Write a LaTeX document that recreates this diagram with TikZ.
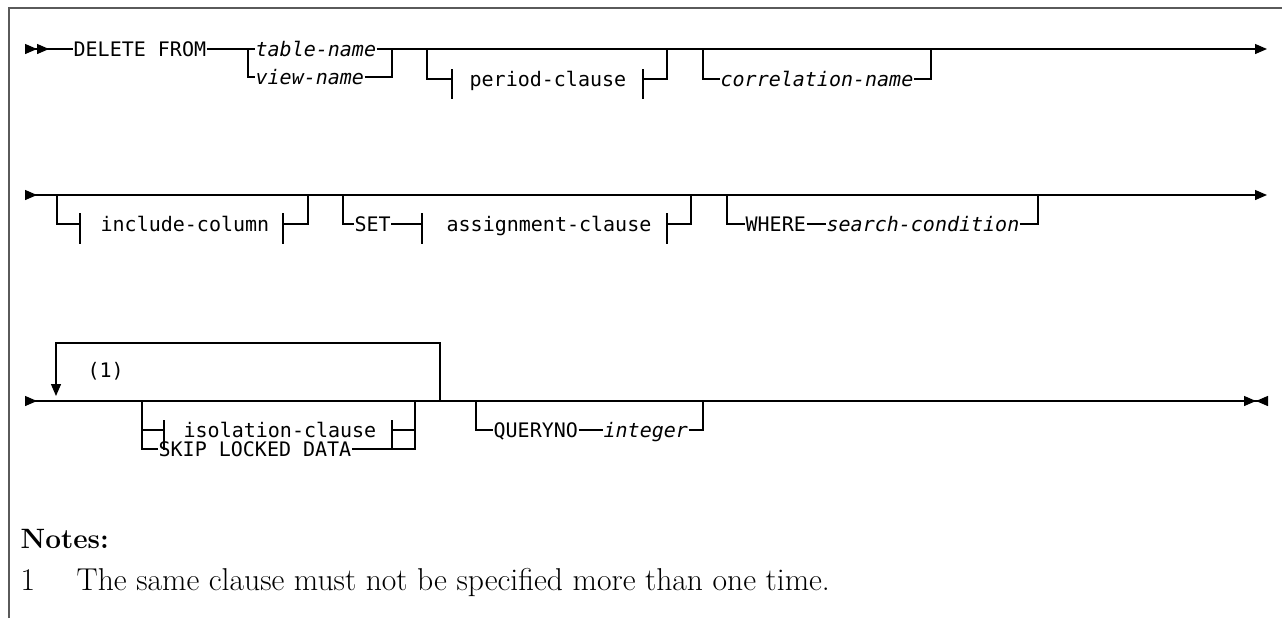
\documentclass[tikz,border=0pt]{standalone}
\usepackage{fontspec}
\setmonofont{DejaVu Sans Mono}
\usetikzlibrary{arrows.meta}
\definecolor{framegray}{RGB}{90,90,90}
\tikzset{
  tri/.tip={Triangle[length=6pt,width=5pt]},
  irt/.tip={Triangle[length=6pt,width=5pt,reversed]},
  kw/.style={font=\fontsize{10}{12}\selectfont\ttfamily,inner sep=0pt,anchor=west,text height=7pt,text depth=0pt},
  var/.style={kw,font=\fontsize{10}{12}\selectfont\ttfamily\itshape},
  notefont/.style={font=\fontsize{15.8}{18}\selectfont,inner sep=0pt,anchor=base west},
}

\begin{document}
\begin{tikzpicture}[x=0.5pt,y=-0.5pt,line width=0.65pt]
  \useasboundingbox (0,0) rectangle (1282,618);
  \draw[framegray,line width=1.1pt] (9,618) -- (9,8) -- (1282,8);

  % first line
  \coordinate (s1) at (25,49);
  \coordinate (e1) at (1267,49);
  \node[kw] (delfrom) at (73,49) {DELETE FROM};
  \node[var] (tname) at (255,49) {table-name};
  \node[var] (vname) at (255,77) {view-name};
  \node[kw] (period) at (469,79) {period-clause};
  \node[var] (corr) at (720,79) {correlation-name};
  \draw[{irt[] irt[]}-] (s1) -- (delfrom.west);
  \draw (delfrom.east) -- (tname.west);
  \draw[-{tri[]}] (tname.east) -- (e1);
  \draw (248,49) |- (vname.west);
  \draw (vname.east) -| (392,49);
  \draw (427,49) |- (452,79);
  \draw (452,69) -- (452,99);
  \draw (643,69) -- (643,99);
  \draw (643,79) -| (667,49);
  \draw (703,49) |- (corr.west);
  \draw (corr.east) -| (931,49);

  % second line
  \coordinate (s2) at (25,195);
  \coordinate (e2) at (1267,195);
  \node[kw] (inccol) at (100,224) {include-column};
  \node[kw] (set) at (354,224) {SET};
  \node[kw] (assign) at (446,224) {assignment-clause};
  \node[kw] (where) at (745,224) {WHERE};
  \node[var] (cond) at (826,224) {search-condition};
  \draw[{irt[]}-{tri[]}] (s2) -- (e2);
  \draw (57,195) |- (80,224);
  \draw (80,213) -- (80,244);
  \draw (283,213) -- (283,244);
  \draw (283,224) -| (308,195);
  \draw (343,195) |- (set.west);
  \draw (set.east) -- (422,224);
  \draw (422,213) -- (422,244);
  \draw (667,213) -- (667,244);
  \draw (667,224) -| (691,195);
  \draw (727,195) |- (where.west);
  \draw (where.east) -- (cond.west);
  \draw (cond.east) -| (1038,195);

  % third line
  \coordinate (s3) at (25,401);
  \coordinate (e3) at (1268,401);
  \node[kw] (noteref) at (87,370) {(1)};
  \node[kw] (isol) at (183,430) {isolation-clause};
  \node[kw] (skip) at (158,449) {SKIP LOCKED DATA};
  \node[kw] (queryno) at (493,430) {QUERYNO};
  \node[var] (intg) at (603,430) {integer};
  \draw[{irt[]}-{tri[] irt[]}] (s3) -- (e3);
  \draw[-{tri[]}] (440,401) |- (56,343) -- (56,396);
  \draw (142,401) |- (skip.west);
  \draw (142,430) -- (164,430);
  \draw (164,420) -- (164,450);
  \draw (392,420) -- (392,450);
  \draw (392,430) -- (415,430);
  \draw (skip.east) -| (415,401);
  \draw (476,401) |- (queryno.west);
  \draw (queryno.east) -- (intg.west);
  \draw (intg.east) -| (703,401);

  % notes
  \node[notefont,font=\fontsize{14}{16}\selectfont\bfseries] (notes) at (20,548) {Notes:};
  \node[notefont] (num1) at (20,590) {1};
  \node[notefont] (note1) at (76,590) {The same clause must not be specified more than one time.};
\end{tikzpicture}
\end{document}
